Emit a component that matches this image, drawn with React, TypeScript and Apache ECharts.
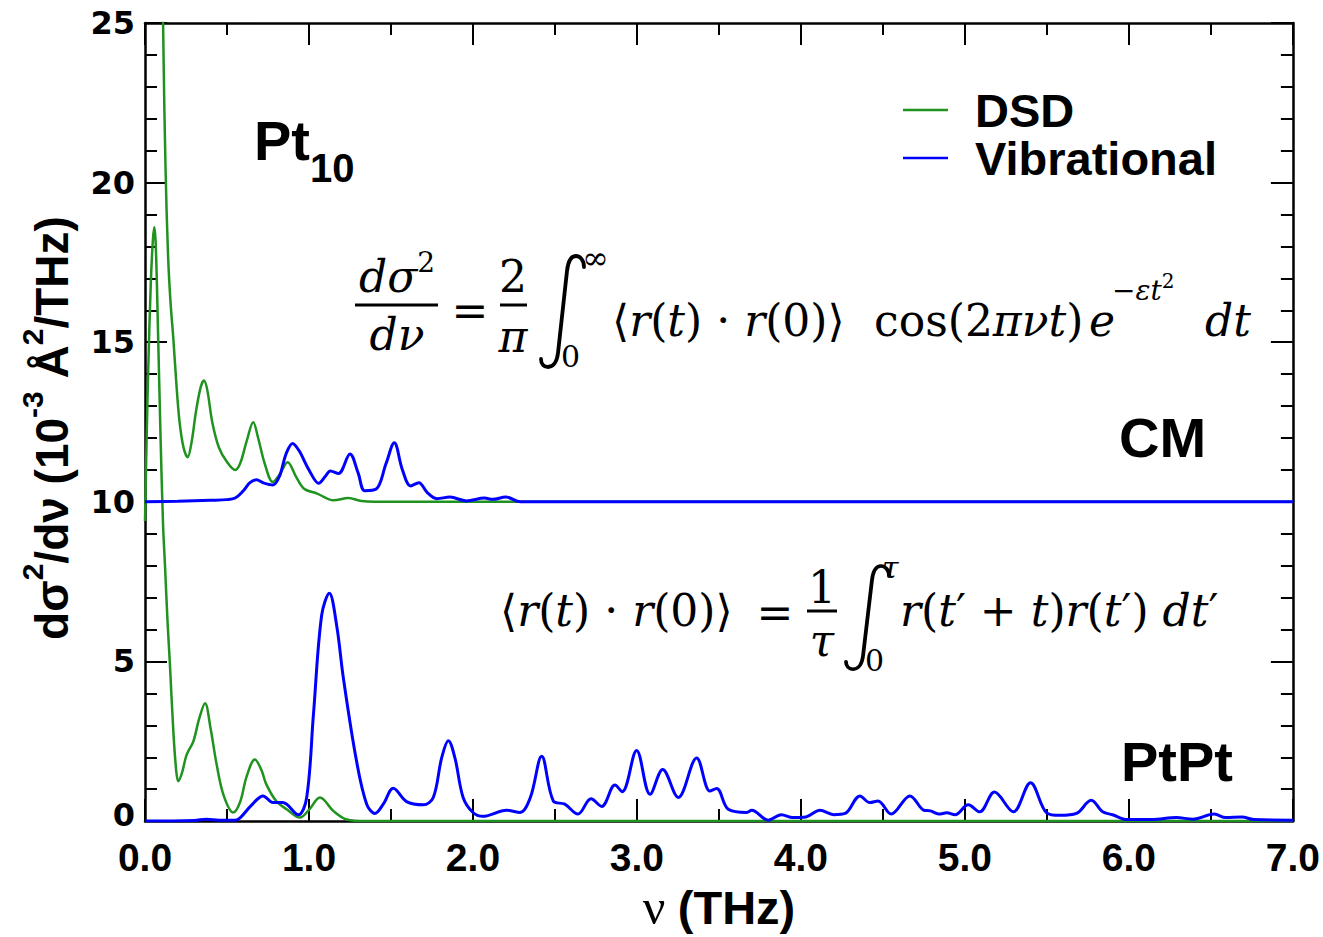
import React, { useEffect, useRef } from "react";
import * as echarts from "echarts";

// ---- data (ν in THz, dσ²/dν in 1e-3 Å²/THz) ----
const dsdPtPt: number[][] = [
  [0, 9.4], [0.01, 12.0], [0.02, 14.2], [0.035, 16.8], [0.048, 18.2], [0.057, 18.6], [0.066, 18.0],
  [0.08, 15.2], [0.095, 12.0], [0.11, 9.3], [0.122, 8.0], [0.137, 6.3], [0.152, 4.9], [0.173, 2.8],
  [0.19, 1.6], [0.203, 1.25], [0.225, 1.5], [0.254, 2.08], [0.295, 2.5], [0.33, 3.2], [0.366, 3.69],
  [0.4, 2.9], [0.437, 1.77], [0.48, 0.8], [0.538, 0.27], [0.58, 0.6], [0.62, 1.4], [0.67, 1.93],
  [0.71, 1.6], [0.74, 1.15], [0.8, 0.63], [0.864, 0.37], [0.945, 0.11], [1.0, 0.35], [1.067, 0.74],
  [1.148, 0.32], [1.23, 0.05], [1.35, 0.0], [7.0, 0.0],
];

const dsdCM: number[][] = [
  [0.095, 34], [0.105, 27.5], [0.113, 24], [0.125, 20.5], [0.14, 17.8], [0.155, 16.3], [0.173, 15.1],
  [0.19, 13.8], [0.21, 12.54], [0.235, 11.7], [0.26, 11.4], [0.285, 11.9], [0.31, 12.8], [0.34, 13.6],
  [0.36, 13.8], [0.38, 13.5], [0.41, 12.5], [0.45, 11.71], [0.5, 11.25], [0.55, 11.0], [0.58, 11.2],
  [0.62, 11.9], [0.66, 12.49], [0.69, 12.0], [0.73, 11.2], [0.78, 10.62], [0.82, 10.85], [0.87, 11.24],
  [0.92, 10.8], [0.97, 10.41], [1.05, 10.26], [1.15, 10.05], [1.24, 10.12], [1.32, 10.03], [1.5, 10.0],
  [7.0, 10.0],
];

const vibCM: number[][] = [
  [0, 10.0], [0.2, 10.02], [0.4, 10.05], [0.5, 10.07], [0.55, 10.12], [0.6, 10.35], [0.64, 10.6],
  [0.68, 10.69], [0.72, 10.6], [0.78, 10.53], [0.82, 10.8], [0.86, 11.5], [0.9, 11.83], [0.94, 11.6],
  [1.0, 11.0], [1.06, 10.58], [1.1, 10.8], [1.13, 10.97], [1.18, 10.89], [1.25, 11.5], [1.3, 10.9],
  [1.34, 10.35], [1.41, 10.4], [1.47, 11.2], [1.52, 11.85], [1.57, 11.0], [1.62, 10.5], [1.67, 10.6],
  [1.72, 10.3], [1.78, 10.1], [1.86, 10.15], [1.96, 10.03], [2.07, 10.12], [2.12, 10.08], [2.2, 10.15],
  [2.29, 10.0], [7.0, 10.0],
];

const vibPtPt: number[][] = [
  [0, 0], [0.3, 0.02], [0.376, 0.06], [0.45, 0.03], [0.55, 0.03], [0.58, 0.1], [0.65, 0.5], [0.72, 0.79],
  [0.78, 0.58], [0.84, 0.58], [0.935, 0.2], [0.986, 0.74], [1.027, 3.33], [1.077, 6.44], [1.124, 7.14],
  [1.169, 6.12], [1.21, 4.47], [1.29, 1.88], [1.352, 0.53], [1.402, 0.24], [1.453, 0.53], [1.514, 1.03],
  [1.595, 0.61], [1.697, 0.51], [1.758, 0.74], [1.809, 1.98], [1.85, 2.52], [1.89, 1.98], [1.94, 0.74],
  [2.0, 0.27], [2.06, 0.15], [2.205, 0.34], [2.287, 0.27], [2.35, 0.74], [2.419, 2.03], [2.49, 0.63],
  [2.56, 0.53], [2.64, 0.22], [2.72, 0.7], [2.785, 0.46], [2.866, 1.13], [2.91, 0.92], [2.998, 2.21],
  [3.08, 0.84], [3.157, 1.62], [3.252, 0.74], [3.364, 1.98], [3.445, 0.94], [3.486, 1.02], [3.557, 0.37],
  [3.67, 0.27], [3.7, 0.34], [3.8, 0.03], [3.88, 0.2], [3.95, 0.11], [4.03, 0.13], [4.116, 0.34],
  [4.2, 0.2], [4.27, 0.24], [4.36, 0.79], [4.42, 0.58], [4.47, 0.63], [4.55, 0.22], [4.665, 0.79],
  [4.75, 0.34], [4.79, 0.32], [4.84, 0.22], [4.89, 0.26], [4.94, 0.2], [5.02, 0.51], [5.09, 0.29],
  [5.18, 0.91], [5.295, 0.29], [5.4, 1.2], [5.5, 0.25], [5.58, 0.18], [5.68, 0.24], [5.77, 0.65],
  [5.84, 0.29], [5.9, 0.2], [5.99, 0.05], [6.14, 0.05], [6.29, 0.11], [6.39, 0.06], [6.52, 0.22],
  [6.59, 0.11], [6.69, 0.13], [6.76, 0.05], [7.0, 0.03],
];

const xTicks = { min: 0, max: 7, interval: 1 };
const yTicks = { min: 0, max: 25, interval: 5 };

const GREEN = "#1f921f";
const BLUE = "#0000ff";
const MATH = "'DejaVu Serif', 'Liberation Serif', serif";
const SANS = "'Liberation Sans', Arial, sans-serif";
const YFONT = "'DejaVu Sans', sans-serif";

// integral sign outline (45 x 113 box)
echarts.graphic.registerShape(
  "integralSign",
  echarts.graphic.extendPath(
    "M 44 12 C 44 5 40 1 36 1 C 30 1 28 7 27 16 L 18 98 C 17 107 13 112 8 112 C 4 112 1 109 1 104",
    {}
  )
);

type Part = { t: string; size: number; it?: boolean; bold?: boolean; dy?: number; fam?: string };

let measureCtx: CanvasRenderingContext2D | null = null;
function measure(p: Part): number {
  if (!measureCtx) measureCtx = document.createElement("canvas").getContext("2d");
  const ctx = measureCtx as CanvasRenderingContext2D;
  ctx.font = `${p.it ? "italic " : ""}${p.bold ? "bold " : ""}${p.size}px ${p.fam || MATH}`;
  return ctx.measureText(p.t).width;
}

function run(parts: Part[], x0: number, y0: number, center = false): any[] {
  const total = parts.reduce((s, p) => s + measure(p), 0);
  let x = center ? x0 - total / 2 : x0;
  return parts.map((p) => {
    const el = {
      type: "text",
      x,
      y: y0 + (p.dy || 0),
      z: 100,
      style: {
        text: p.t,
        fill: "#000",
        fontSize: p.size,
        fontFamily: p.fam || MATH,
        fontStyle: p.it ? "italic" : "normal",
        fontWeight: p.bold ? "bold" : "normal",
        textAlign: "left",
        textVerticalAlign: "middle",
      },
    };
    x += measure(p);
    return el;
  });
}

function hline(x1: number, x2: number, y: number, color = "#000", w = 3): any {
  return { type: "line", z: 100, shape: { x1, y1: y, x2, y2: y }, style: { stroke: color, lineWidth: w } };
}

function integral(x: number, y: number, sy: number): any {
  return {
    type: "integralSign", x, y, scaleX: 1, scaleY: sy, z: 100,
    style: { stroke: "#000", lineWidth: 3.8, fill: null, lineCap: "round", strokeNoScale: true },
  };
}

function rAngle(S: number): Part[] {
  return [
    { t: "⟨", size: S }, { t: "r", size: S, it: true }, { t: "(", size: S }, { t: "t", size: S, it: true },
    { t: ") · ", size: S }, { t: "r", size: S, it: true }, { t: "(0)⟩", size: S },
  ];
}

function buildGraphics(): any[] {
  const S = 44;
  const g: any[] = [];
  // Equation 1
  g.push(...run([{ t: "dσ", size: S, it: true }, { t: "2", size: 28, dy: -14 }], 397, 276, true));
  g.push(hline(355, 438, 305));
  g.push(...run([{ t: "dν", size: S, it: true }], 397, 334, true));
  g.push(...run([{ t: "=", size: S }], 470, 310, true));
  g.push(...run([{ t: "2", size: S }], 513, 276, true));
  g.push(hline(500, 527, 305));
  g.push(...run([{ t: "π", size: S, it: true }], 513, 336, true));
  g.push(integral(540, 255, 1));
  g.push(...run([{ t: "∞", size: 32 }], 582, 258));
  g.push(...run([{ t: "0", size: 30 }], 561, 356));
  g.push(...run(rAngle(S), 612, 320));
  g.push(...run([{ t: "cos(2", size: S }, { t: "πνt", size: S, it: true }, { t: ")", size: S }], 874, 320));
  g.push(...run([{ t: "e", size: S, it: true }], 1089, 320));
  g.push(...run([{ t: "−εt", size: 28, it: true }, { t: "2", size: 20, dy: -9 }], 1112, 290));
  g.push(...run([{ t: "dt", size: S, it: true }], 1205, 320));

  // Equation 2
  g.push(...run(rAngle(S), 500, 610));
  g.push(...run([{ t: "=", size: S }], 775, 612, true));
  g.push(...run([{ t: "1", size: S }], 822, 587, true));
  g.push(hline(807, 837, 611));
  g.push(...run([{ t: "τ", size: S, it: true }], 822, 640, true));
  g.push(integral(845, 565, 0.93));
  g.push(...run([{ t: "τ", size: 30, it: true }], 882, 567));
  g.push(...run([{ t: "0", size: 30 }], 865, 660));
  g.push(
    ...run(
      [
        { t: "r", size: S, it: true }, { t: "(", size: S }, { t: "t", size: S, it: true }, { t: "′ + ", size: S },
        { t: "t", size: S, it: true }, { t: ")", size: S }, { t: "r", size: S, it: true }, { t: "(", size: S },
        { t: "t", size: S, it: true }, { t: "′) ", size: S }, { t: "dt", size: S, it: true }, { t: "′", size: S },
      ],
      900, 610
    )
  );

  // Labels
  g.push(...run([{ t: "Pt", size: 56, bold: true, fam: SANS }], 254, 140));
  g.push(...run([{ t: "10", size: 40, bold: true, fam: SANS }], 310, 168));
  g.push(...run([{ t: "CM", size: 56, bold: true, fam: SANS }], 1119, 437));
  g.push(...run([{ t: "PtPt", size: 56, bold: true, fam: SANS }], 1121, 761));

  // Legend
  g.push(hline(903, 948, 110, GREEN, 2.5));
  g.push(hline(903, 948, 158, BLUE, 2.5));
  g.push(...run([{ t: "DSD", size: 47, bold: true, fam: SANS }], 975, 110));
  g.push(...run([{ t: "Vibrational", size: 47, bold: true, fam: SANS }], 975, 158));

  // Y axis title (rotated)
  const T = 46;
  const yParts: Part[] = [
    { t: "dσ", size: T, bold: true, fam: SANS },
    { t: "2", size: 30, bold: true, fam: SANS, dy: -20 },
    { t: "/dν (10", size: T, bold: true, fam: SANS },
    { t: "-3", size: 30, bold: true, fam: SANS, dy: -20 },
    { t: " Å", size: T, bold: true, fam: SANS },
    { t: "2", size: 30, bold: true, fam: SANS, dy: -20 },
    { t: "/THz)", size: T, bold: true, fam: SANS },
  ];
  g.push({ type: "group", x: 52, y: 428, rotation: Math.PI / 2, children: run(yParts, 0, 0, true) });
  return g;
}

export default function App() {
  const ref = useRef<HTMLDivElement>(null);
  useEffect(() => {
    if (!ref.current) return;
    const chart = echarts.init(ref.current, null, { renderer: "svg" });
    const axisLine = { show: true, onZero: false, lineStyle: { color: "#000", width: 2.5 } };
    const tick = { show: true, inside: true, length: 22, lineStyle: { color: "#000", width: 2 } };
    const minor = (n: number) => ({ show: true, splitNumber: n, length: 12, lineStyle: { color: "#000", width: 2 } });
    const option: any = {
      animation: false,
      backgroundColor: "#fff",
      grid: { left: 145, right: 30, top: 23, bottom: 110 },
      xAxis: [
        {
          type: "value", ...xTicks, position: "bottom",
          axisLine, axisTick: tick, minorTick: minor(2), splitLine: { show: false }, minorSplitLine: { show: false },
          axisLabel: {
            formatter: (v: number) => v.toFixed(1), fontSize: 39, lineHeight: 39, fontWeight: "bold", fontFamily: SANS,
            color: "#000", margin: 17,
          },
          name: "{n|ν }{b|(THz)}", nameLocation: "middle", nameGap: 60,
          nameTextStyle: {
            rich: {
              n: { fontFamily: "'Liberation Serif', serif", fontSize: 50, color: "#000" },
              b: { fontFamily: SANS, fontWeight: "bold", fontSize: 47, color: "#000" },
            },
          },
        },
        {
          type: "value", ...xTicks, position: "top",
          axisLine, axisTick: tick, minorTick: minor(2), splitLine: { show: false }, axisLabel: { show: false },
        },
      ],
      yAxis: [
        {
          type: "value", ...yTicks, position: "left",
          axisLine, axisTick: tick, minorTick: minor(5), splitLine: { show: false }, minorSplitLine: { show: false },
          axisLabel: {
            fontSize: 32, lineHeight: 28, fontWeight: "bold", fontFamily: YFONT,
            color: "#000", margin: 10,
            formatter: (v: number) => (v === 0 ? "{z|0}" : String(v)),
            rich: {
              z: { fontSize: 32, lineHeight: 28, fontWeight: "bold", fontFamily: YFONT, color: "#000", padding: [0, 0, 12, 0] },
            },
          },
        },
        {
          type: "value", ...yTicks, position: "right",
          axisLine, axisTick: tick, minorTick: minor(5), splitLine: { show: false }, axisLabel: { show: false },
        },
      ],
      series: [
        { name: "DSD", type: "line", data: dsdPtPt, smooth: 0.35, symbol: "none", clip: true, lineStyle: { color: GREEN, width: 2.5 }, itemStyle: { color: GREEN } },
        { name: "DSD", type: "line", data: dsdCM, smooth: 0.35, symbol: "none", clip: true, lineStyle: { color: GREEN, width: 2.5 }, itemStyle: { color: GREEN } },
        { name: "Vibrational", type: "line", data: vibPtPt, smooth: 0.35, symbol: "none", clip: true, lineStyle: { color: BLUE, width: 3 }, itemStyle: { color: BLUE } },
        { name: "Vibrational", type: "line", data: vibCM, smooth: 0.35, symbol: "none", clip: true, lineStyle: { color: BLUE, width: 3 }, itemStyle: { color: BLUE } },
      ],
      graphic: buildGraphics(),
    };
    chart.setOption(option);
    return () => chart.dispose();
  }, []);
  return <div ref={ref} style={{ position: "absolute", left: 0, top: 0, width: 1323, height: 937 }} />;
}
